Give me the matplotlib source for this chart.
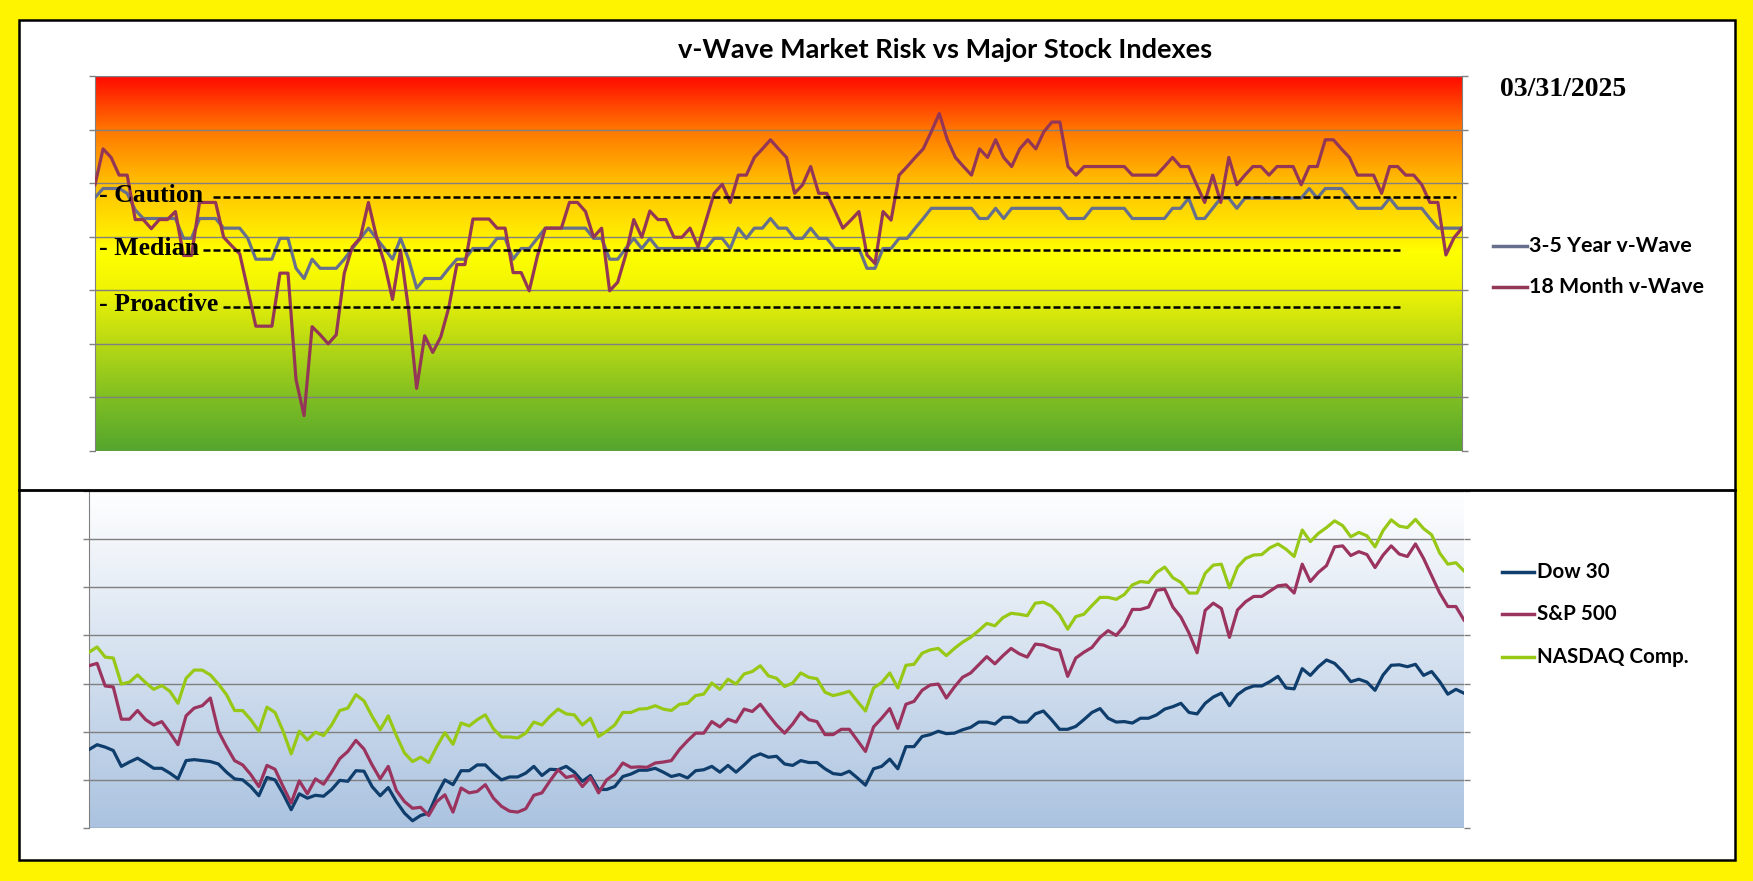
import numpy as np
import matplotlib
matplotlib.use("Agg")
import matplotlib.pyplot as plt
from matplotlib.colors import LinearSegmentedColormap
from matplotlib.lines import Line2D
from matplotlib.patches import Rectangle

# v-Wave risk readings (0-70 scale, weekly)
wave_3_5y = [
    47.3, 49.0, 49.0, 49.0, 48.1, 45.0, 43.4, 43.4, 43.4, 43.4,
    43.4, 39.7, 39.7, 43.4, 43.4, 43.4, 41.6, 41.6, 41.6, 39.7,
    35.8, 35.8, 35.8, 39.7, 39.7, 34.1, 32.2, 35.8, 34.1, 34.1,
    34.1, 35.8, 37.8, 39.7, 41.6, 39.7, 37.8, 35.8, 39.7, 35.8,
    30.4, 32.2, 32.2, 32.2, 34.1, 35.8, 35.8, 37.8, 37.8, 37.8,
    39.7, 39.7, 35.8, 37.8, 37.8, 39.7, 41.6, 41.6, 41.6, 41.6,
    41.6, 41.6, 39.7, 39.7, 35.8, 35.8, 37.8, 39.7, 37.8, 39.7,
    37.8, 37.8, 37.8, 37.8, 37.8, 37.8, 37.8, 39.7, 39.7, 37.8,
    41.6, 39.7, 41.6, 41.6, 43.4, 41.6, 41.6, 39.7, 39.7, 41.6,
    39.7, 39.7, 37.8, 37.8, 37.8, 37.8, 34.1, 34.1, 37.8, 37.8,
    39.7, 39.7, 41.6, 43.4, 45.3, 45.3, 45.3, 45.3, 45.3, 45.3,
    43.4, 43.4, 45.3, 43.4, 45.3, 45.3, 45.3, 45.3, 45.3, 45.3,
    45.3, 43.4, 43.4, 43.4, 45.3, 45.3, 45.3, 45.3, 45.3, 43.4,
    43.4, 43.4, 43.4, 43.4, 45.3, 45.3, 47.2, 43.4, 43.4, 45.3,
    47.2, 47.2, 45.3, 47.2, 47.2, 47.2, 47.2, 47.2, 47.2, 47.2,
    47.2, 49.0, 47.2, 49.0, 49.0, 49.0, 47.2, 45.3, 45.3, 45.3,
    45.3, 47.2, 45.3, 45.3, 45.3, 45.3, 43.4, 41.6, 41.6, 41.6,
    41.6,
]
wave_18m = [
    49.7, 56.4, 54.8, 51.5, 51.5, 43.2, 43.2, 41.5, 43.2, 43.2,
    44.7, 36.5, 36.5, 46.4, 46.4, 46.4, 39.9, 38.3, 36.8, 30.1,
    23.3, 23.3, 23.3, 33.2, 33.2, 13.3, 6.6, 23.2, 21.7, 20.0,
    21.7, 33.2, 38.1, 39.8, 46.4, 40.0, 35.0, 28.3, 37.5, 26.3,
    11.7, 21.5, 18.4, 21.3, 26.8, 34.8, 34.8, 43.3, 43.3, 43.3,
    41.6, 41.6, 33.3, 33.3, 29.9, 36.3, 41.6, 41.6, 41.6, 46.4,
    46.4, 44.7, 39.9, 41.6, 29.9, 31.5, 36.6, 43.2, 39.9, 44.8,
    43.2, 43.2, 39.9, 39.9, 41.6, 38.1, 43.1, 48.1, 49.8, 46.4,
    51.5, 51.5, 54.8, 56.4, 58.1, 56.4, 54.8, 48.1, 49.7, 53.1,
    48.1, 48.1, 44.9, 41.6, 43.1, 44.7, 36.6, 35.0, 44.7, 43.1,
    51.5, 53.1, 54.8, 56.4, 59.6, 63.0, 58.1, 54.8, 53.1, 51.5,
    56.4, 54.8, 58.1, 54.8, 53.1, 56.4, 58.1, 56.4, 59.6, 61.4,
    61.4, 53.1, 51.5, 53.1, 53.1, 53.1, 53.1, 53.1, 53.1, 51.5,
    51.5, 51.5, 51.5, 53.1, 54.8, 53.1, 53.1, 49.7, 46.4, 51.5,
    46.4, 54.8, 49.7, 51.5, 53.1, 53.1, 51.5, 53.1, 53.1, 53.1,
    49.7, 53.1, 53.1, 58.1, 58.1, 56.4, 54.8, 51.5, 51.5, 51.5,
    48.1, 53.1, 53.1, 51.5, 51.5, 49.7, 46.4, 46.4, 36.6, 39.8,
    41.6,
]

# stock indexes (relative scale, same weeks)
dow30 = [
    16.3, 17.3, 16.8, 16.1, 12.8, 13.7, 14.5, 13.5, 12.4, 12.4,
    11.4, 10.2, 14.0, 14.2, 14.0, 13.8, 13.3, 11.6, 10.2, 10.0,
    8.6, 6.7, 10.5, 10.0, 7.1, 3.8, 7.1, 6.2, 6.8, 6.6,
    8.0, 9.9, 9.7, 11.9, 11.8, 8.6, 6.7, 8.4, 5.5, 3.1,
    1.5, 2.6, 3.1, 6.9, 10.0, 9.0, 11.9, 11.9, 13.1, 13.1,
    11.4, 10.0, 10.6, 10.6, 11.4, 12.8, 10.9, 12.2, 12.1, 12.8,
    11.6, 9.7, 10.9, 8.0, 8.0, 8.6, 10.7, 11.2, 12.0, 12.0,
    12.4, 11.6, 10.7, 11.1, 10.4, 11.9, 12.1, 12.8, 11.6, 13.0,
    11.6, 13.1, 14.7, 15.4, 14.7, 14.9, 13.3, 13.0, 14.0, 13.6,
    13.6, 12.3, 11.3, 11.1, 11.8, 10.4, 8.9, 12.3, 12.8, 14.3,
    12.3, 16.9, 16.9, 19.0, 19.4, 20.1, 19.6, 19.7, 20.4, 20.9,
    22.0, 22.0, 21.6, 23.0, 23.0, 22.0, 22.0, 23.7, 24.3, 22.5,
    20.5, 20.5, 21.1, 22.5, 24.0, 24.8, 22.8, 22.0, 22.1, 21.8,
    22.8, 22.8, 23.5, 24.7, 25.2, 25.9, 24.0, 23.7, 25.9, 27.2,
    28.0, 25.4, 27.7, 28.9, 29.5, 29.5, 30.4, 31.5, 29.1, 28.9,
    33.1, 31.7, 33.5, 34.9, 34.2, 32.5, 30.4, 30.9, 30.3, 28.6,
    31.8, 33.8, 33.9, 33.5, 34.0, 31.7, 32.5, 30.4, 27.8, 28.8,
    28.0,
]
sp500 = [
    33.7, 34.2, 29.5, 29.3, 22.6, 22.6, 24.4, 22.5, 21.4, 22.1,
    19.8, 17.3, 23.3, 24.9, 25.4, 27.0, 20.1, 16.9, 14.0, 13.1,
    11.1, 8.6, 13.0, 12.2, 8.6, 5.2, 9.8, 7.1, 10.2, 9.1,
    11.6, 14.4, 15.9, 18.2, 16.4, 13.1, 10.2, 12.8, 7.8, 5.5,
    4.1, 4.3, 2.6, 5.5, 6.9, 3.3, 8.3, 7.3, 7.6, 9.0,
    6.2, 4.5, 3.5, 3.3, 4.0, 6.8, 7.3, 9.8, 12.1, 10.5,
    10.9, 8.6, 10.5, 7.3, 10.0, 11.2, 13.5, 12.6, 12.7, 12.6,
    13.5, 13.7, 14.0, 16.3, 18.1, 19.7, 19.7, 22.1, 21.0, 22.6,
    22.0, 24.7, 24.2, 25.7, 23.5, 21.4, 19.7, 21.6, 24.0, 22.5,
    22.1, 19.4, 19.4, 20.5, 20.5, 18.2, 15.9, 21.0, 22.8, 24.8,
    20.7, 25.7, 26.3, 28.6, 29.7, 29.9, 27.0, 29.3, 31.3, 32.2,
    33.9, 35.6, 34.1, 35.8, 37.3, 36.2, 35.5, 38.2, 38.0, 37.3,
    36.9, 31.5, 35.3, 36.5, 37.5, 39.6, 41.0, 40.0, 42.0, 45.4,
    45.4, 45.9, 49.4, 49.6, 45.9, 43.8, 40.5, 36.4, 45.2, 46.7,
    45.6, 39.6, 45.3, 47.0, 48.1, 48.1, 49.2, 50.3, 50.5, 48.8,
    54.8, 51.2, 53.1, 54.5, 58.4, 58.6, 56.6, 57.4, 56.8, 54.1,
    56.7, 58.6, 56.9, 56.4, 59.0, 56.0, 52.4, 48.8, 46.0, 46.0,
    43.2,
]
nasdaq = [
    36.5, 37.6, 35.5, 35.3, 29.9, 30.3, 31.8, 30.2, 28.8, 29.6,
    28.4, 25.9, 31.1, 32.8, 32.8, 31.8, 29.9, 27.7, 24.4, 24.4,
    22.5, 20.1, 25.1, 24.0, 20.1, 15.4, 20.1, 18.3, 19.9, 19.2,
    21.4, 24.4, 24.9, 27.7, 26.4, 23.2, 20.4, 23.3, 19.2, 15.6,
    13.8, 14.7, 13.6, 16.9, 19.8, 17.4, 21.8, 21.2, 22.5, 23.5,
    20.6, 18.9, 18.9, 18.7, 19.7, 22.0, 21.4, 23.2, 24.7, 23.7,
    23.5, 21.4, 22.8, 19.0, 20.1, 21.4, 24.0, 24.0, 24.7, 24.8,
    25.4, 24.7, 24.4, 25.7, 25.9, 27.5, 27.8, 30.1, 28.8, 30.9,
    29.9, 32.0, 32.5, 33.7, 31.6, 31.1, 29.4, 30.1, 32.2, 31.3,
    31.0, 28.2, 27.5, 27.9, 28.4, 26.3, 24.3, 29.1, 30.2, 32.2,
    29.1, 33.8, 34.0, 36.3, 37.0, 37.3, 35.8, 37.3, 38.6, 39.6,
    41.0, 42.5, 42.0, 43.7, 44.6, 44.4, 44.1, 46.7, 46.9, 46.1,
    44.3, 41.3, 43.9, 44.4, 46.2, 47.9, 47.9, 47.5, 48.5, 50.5,
    51.2, 51.0, 53.1, 54.2, 52.0, 51.0, 48.8, 48.8, 52.9, 54.6,
    54.8, 49.9, 54.2, 56.0, 56.7, 56.8, 58.2, 59.0, 57.9, 56.4,
    61.9, 59.5, 61.2, 62.4, 63.8, 62.8, 60.5, 61.4, 60.7, 58.4,
    61.8, 64.0, 62.7, 62.4, 64.1, 62.2, 60.9, 57.1, 54.8, 55.1,
    53.4,
]

level_values = [47.4, 37.5, 26.9]
level_text_y = [47.6, 37.8, 27.3]
level_labels = ["- Caution", "- Median", "- Proactive"]
level_start = [0.086, 0.079, 0.094]
level_end = [0.9956, 0.957, 0.957]

risk_names = ["3-5 Year v-Wave", "18 Month v-Wave"]
risk_colors = ["#66708C", "#943757"]
index_names = ["Dow 30", "S&P 500", "NASDAQ Comp."]
index_colors = ["#0F3D6C", "#9B335F", "#98C816"]

W, H = 1753, 881
fig = plt.figure(figsize=(W / 100, H / 100), dpi=100)
fig.patch.set_facecolor("#FFF400")


def fx(px):
    return px / W


def fy(py):
    return 1 - py / H


sans = ["Lato", "DejaVu Sans"]
serif = ["Liberation Serif", "DejaVu Serif"]

# white panel with black border and divider
fig.add_artist(Rectangle((fx(19), fy(860)), (1735 - 19) / W, (860 - 20) / H,
                         transform=fig.transFigure, facecolor="white",
                         edgecolor="black", linewidth=1.8, zorder=-1))
fig.add_artist(Line2D([fx(19), fx(1735)], [fy(489.5), fy(489.5)],
                      color="black", linewidth=2, zorder=5))

grad = np.linspace(0, 1, 256).reshape(-1, 1)
grid_col = "#808080"

# --- top chart: market risk
ax1 = fig.add_axes([fx(95), fy(451), 1367 / W, 375 / H])
risk_cmap = LinearSegmentedColormap.from_list("risk", [
    (0.0, "#55A62E"), (0.143, "#80BF22"), (0.286, "#B8D914"),
    (0.43, "#F0F404"), (0.53, "#FFFF00"), (0.571, "#FFEE00"),
    (0.714, "#FFBF00"), (0.857, "#FF7600"), (1.0, "#FF0800")])
ax1.imshow(grad, aspect="auto", cmap=risk_cmap, origin="lower",
           extent=[0, 170, 0, 70], zorder=0)

x = np.arange(len(wave_18m))
ax1.plot(x, wave_3_5y, color=risk_colors[0], lw=2.3, zorder=3)
ax1.plot(x, wave_18m, color=risk_colors[1], lw=2.3, zorder=4)

ytr = ax1.get_yaxis_transform()
for lv, ty, lab, x0, x1 in zip(level_values, level_text_y, level_labels,
                               level_start, level_end):
    ax1.plot([x0, x1], [lv, lv], transform=ytr, color="black", lw=1.8,
             linestyle=(0, (2.8, 1.2)), zorder=5)
    ax1.text(0.003, ty, lab, transform=ytr, ha="left", va="center",
             fontsize=18.5, fontweight="bold", family=serif, zorder=6)

# --- bottom chart: stock indexes
ax2 = fig.add_axes([fx(89), fy(828), 1375 / W, 337 / H])
idx_cmap = LinearSegmentedColormap.from_list("idx", ["#ABC3E0", "#FFFFFF"])
ax2.imshow(grad, aspect="auto", cmap=idx_cmap, origin="lower",
           extent=[0, 170, 0, 70], zorder=0)
for vals, col in zip([dow30, sp500, nasdaq], index_colors):
    ax2.plot(np.arange(len(vals)), vals, color=col, lw=2.3, zorder=3)

for ax in (ax1, ax2):
    ax.set_xlim(0, 170)
    ax.set_ylim(0, 70)
    ax.set_yticks(range(0, 80, 10))
    ax.set_axisbelow(True)
    ax.grid(axis="y", color=grid_col, lw=1)
    ax.grid(axis="x", visible=False)
    ax.tick_params(axis="x", bottom=False, labelbottom=False)
    ax.tick_params(axis="y", left=True, right=True, length=4.5, width=1,
                   color=grid_col, labelleft=False)
    for s in ("top", "bottom"):
        ax.spines[s].set_visible(False)
    ax.spines["left"].set_color(grid_col)
    ax.spines["right"].set_color(grid_col)
ax2.spines["right"].set_visible(False)

# titles and legends
fig.text(fx(945), fy(50), "v-Wave Market Risk vs Major Stock Indexes",
         ha="center", va="center", fontsize=19.5, fontweight="bold", family=sans)
fig.text(fx(1500), fy(90), "03/31/2025", ha="left", va="center",
         fontsize=20, fontweight="bold", family=serif)

for name, col, py in zip(risk_names, risk_colors, [246, 287]):
    fig.add_artist(Line2D([fx(1493), fx(1527)], [fy(py), fy(py)],
                          color=col, lw=2.5))
    fig.text(fx(1529), fy(py), name, ha="left", va="center",
             fontsize=15.4, fontweight="bold", family=sans)

for name, col, py in zip(index_names, index_colors, [572, 614, 657]):
    fig.add_artist(Line2D([fx(1502), fx(1534)], [fy(py), fy(py)],
                          color=col, lw=2.5))
    fig.text(fx(1537), fy(py), name, ha="left", va="center",
             fontsize=14.8, fontweight="bold", family=sans)

fig.savefig("out.png", dpi=100, facecolor=fig.get_facecolor())
